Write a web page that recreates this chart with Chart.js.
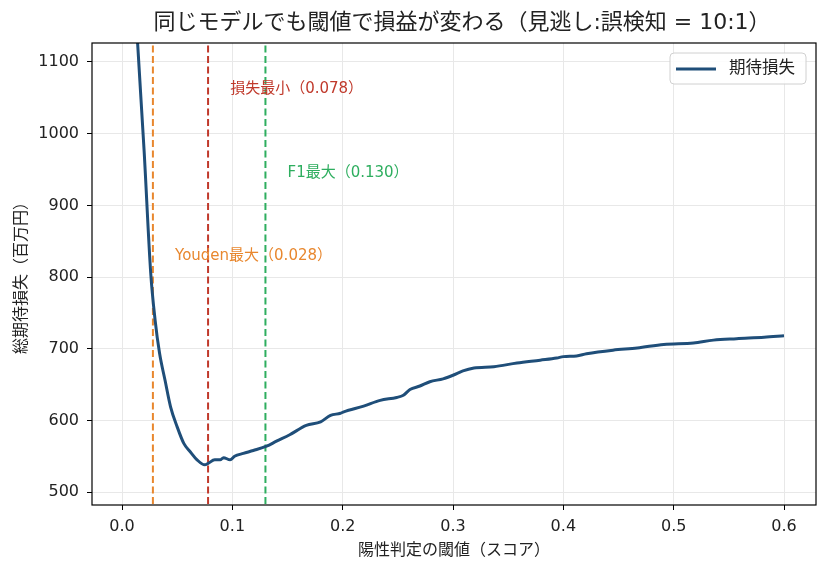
<!DOCTYPE html>
<html>
<head>
<meta charset="utf-8">
<script src="https://cdn.jsdelivr.net/npm/chart.js@4.4.1/dist/chart.umd.min.js"></script>
<style>
  html, body { margin: 0; padding: 0; background: #fff; }
  #wrap { width: 829px; height: 573px; }
</style>
</head>
<body>
<div id="wrap"><canvas id="chart" width="829" height="573"></canvas></div>
<script>
// threshold values (x) and expected loss in million yen (y)
const thresholds = [0.010, 0.014, 0.020, 0.026, 0.030, 0.034, 0.039, 0.044, 0.050, 0.056,
  0.062, 0.068, 0.075, 0.078, 0.084, 0.089, 0.092, 0.098, 0.102, 0.110,
  0.119, 0.131, 0.140, 0.152, 0.167, 0.180, 0.189, 0.198, 0.201, 0.219,
  0.234, 0.249, 0.255, 0.261, 0.270, 0.279, 0.291, 0.300, 0.309, 0.319,
  0.337, 0.358, 0.379, 0.394, 0.400, 0.412, 0.421, 0.445, 0.467, 0.491,
  0.518, 0.536, 0.557, 0.582, 0.600];
const expectedLoss = [1250, 1130, 977, 806, 740, 694, 656, 619, 591, 568,
  556, 545, 538, 540, 545, 545, 548, 545, 550, 554,
  558, 564, 571, 580, 593, 598, 607, 610, 612, 620,
  628, 632, 635, 643, 648, 654, 658, 663, 669, 673,
  675, 680, 684, 687, 689, 690, 693, 698, 701, 706,
  708, 712, 714, 716, 718];

// reference thresholds
const markerNames = ['Youden最大', '損失最小', 'F1最大'];
const markerValues = [0.028, 0.078, 0.130];
const markerColors = ['#e8872e', '#c0392b', '#2eae5f'];
const markerLabelY = [829, 1062, 945];

const xTicks = [0.0, 0.1, 0.2, 0.3, 0.4, 0.5, 0.6];
const yTicks = [500, 600, 700, 800, 900, 1000, 1100];

const FONT = '"DejaVu Sans", "Noto Sans CJK JP", sans-serif';
const lineColor = '#1f4e79';
const titleText = '同じモデルでも閾値で損益が変わる（見逃し:誤検知 = 10:1）';

const datasets = [{
  label: '期待損失',
  data: thresholds.map((t, i) => ({ x: t, y: expectedLoss[i] })),
  borderColor: lineColor,
  borderWidth: 3,
  pointRadius: 0,
  cubicInterpolationMode: 'monotone'
}];
markerValues.forEach((v, i) => {
  datasets.push({
    label: markerNames[i],
    data: [{ x: v, y: 0 }, { x: v, y: 2000 }],
    borderColor: markerColors[i],
    borderWidth: 2,
    borderDash: [7, 3.5],
    pointRadius: 0
  });
});

const decor = {
  id: 'decor',
  afterDatasetsDraw(chart) {
    const { ctx, chartArea: a, scales } = chart;
    ctx.save();
    // title
    ctx.fillStyle = '#222';
    ctx.font = '22px ' + FONT;
    ctx.textAlign = 'center';
    ctx.textBaseline = 'middle';
    ctx.fillText(titleText, 462, 23);
    // annotations
    ctx.font = '15px ' + FONT;
    ctx.textAlign = 'left';
    markerValues.forEach((v, i) => {
      ctx.fillStyle = markerColors[i];
      ctx.fillText(markerNames[i] + '（' + v.toFixed(3) + '）',
        scales.x.getPixelForValue(v + 0.02), scales.y.getPixelForValue(markerLabelY[i]));
    });
    // frame
    ctx.strokeStyle = '#000';
    ctx.lineWidth = 1.2;
    ctx.strokeRect(a.left, a.top, a.right - a.left, a.bottom - a.top);
    // legend
    const lx = 670, ly = 53, lw = 136, lh = 31;
    ctx.beginPath();
    ctx.roundRect(lx, ly, lw, lh, 4);
    ctx.fillStyle = 'rgba(255,255,255,0.85)';
    ctx.fill();
    ctx.strokeStyle = '#d0d0d0';
    ctx.lineWidth = 1;
    ctx.stroke();
    ctx.beginPath();
    ctx.moveTo(lx + 6, ly + 16);
    ctx.lineTo(lx + 46, ly + 16);
    ctx.strokeStyle = lineColor;
    ctx.lineWidth = 3;
    ctx.stroke();
    ctx.fillStyle = '#222';
    ctx.font = '16.5px ' + FONT;
    ctx.fillText(datasets[0].label, lx + 59, ly + 16);
    ctx.restore();
  }
};

new Chart(document.getElementById('chart'), {
  type: 'line',
  data: { datasets },
  options: {
    responsive: false,
    animation: false,
    layout: { padding: { left: 0, right: 13, top: 43, bottom: 0 } },
    plugins: {
      legend: { display: false },
      tooltip: { enabled: false },
      title: { display: false }
    },
    scales: {
      x: {
        type: 'linear',
        min: -0.0272,
        max: 0.629,
        afterBuildTicks(s) { s.ticks = xTicks.map(v => ({ value: v })); },
        afterFit(s) { s.height = 68; },
        ticks: {
          color: '#222',
          font: { family: FONT, size: 16 },
          padding: 7,
          callback: v => v.toFixed(1)
        },
        grid: { color: '#e8e8e8', tickColor: '#000', tickLength: 5 },
        border: { display: false },
        title: {
          display: true,
          text: '陽性判定の閾値（スコア）',
          color: '#222',
          font: { family: FONT, size: 16, lineHeight: 1.2 },
          padding: { bottom: 13 }
        }
      },
      y: {
        type: 'linear',
        min: 482,
        max: 1126.5,
        afterBuildTicks(s) { s.ticks = yTicks.map(v => ({ value: v })); },
        afterFit(s) { s.width = 92; },
        ticks: {
          color: '#222',
          font: { family: FONT, size: 16 },
          padding: 8,
          callback: v => String(v)
        },
        grid: { color: '#e8e8e8', tickColor: '#000', tickLength: 5 },
        border: { display: false },
        title: {
          display: true,
          text: '総期待損失（百万円）',
          color: '#222',
          font: { family: FONT, size: 16, lineHeight: 1.2 },
          padding: { top: 12 }
        }
      }
    }
  },
  plugins: [decor]
});
</script>
</body>
</html>
